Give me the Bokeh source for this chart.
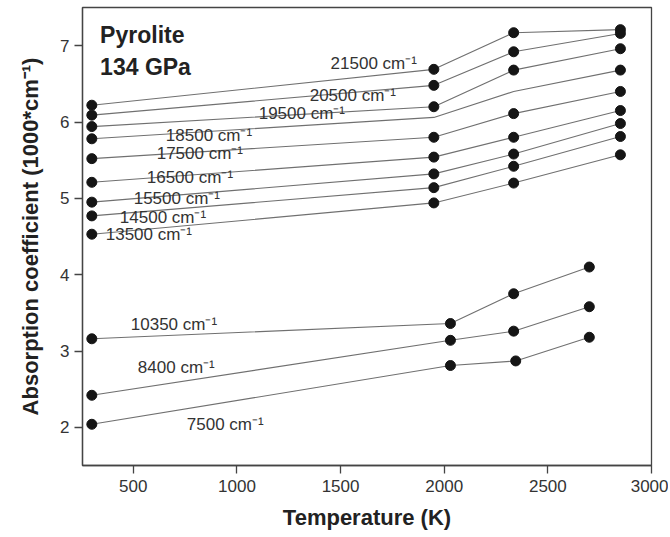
from bokeh.plotting import figure
from bokeh.models import ColumnDataSource, FixedTicker, Range1d
from bokeh.core.properties import value
from bokeh.embed import file_html
from bokeh.resources import INLINE

# ---- data ----
temps_high = [300, 1950, 2335, 2850]
series_high = {
    "21500": [6.22, 6.69, 7.17, 7.21],
    "20500": [6.09, 6.48, 6.92, 7.16],
    "19500": [5.94, 6.20, 6.68, 6.96],
    "18500": [5.78, 6.06, 6.40, 6.68],
    "17500": [5.52, 5.80, 6.11, 6.40],
    "16500": [5.21, 5.54, 5.80, 6.15],
    "15500": [4.95, 5.32, 5.58, 5.98],
    "14500": [4.77, 5.14, 5.42, 5.81],
    "13500": [4.53, 4.94, 5.20, 5.57],
}
marked_high = {k: [True, True, True, True] for k in series_high}
marked_high["18500"] = [True, False, False, True]

temps_low = {
    "10350": [300, 2030, 2335, 2700],
    "8400": [300, 2030, 2335, 2700],
    "7500": [300, 2030, 2345, 2700],
}
series_low = {
    "10350": [3.16, 3.36, 3.75, 4.10],
    "8400": [2.42, 3.14, 3.26, 3.58],
    "7500": [2.04, 2.81, 2.87, 3.18],
}

label_names = ["21500", "20500", "19500", "18500", "17500", "16500",
               "15500", "14500", "13500", "10350", "8400", "7500"]
label_x = [1452, 1351, 1105, 657, 613, 565, 502, 435, 367, 488, 522, 758]
label_y = [6.76, 6.35, 6.11, 5.82, 5.585, 5.27, 4.995, 4.745, 4.53, 3.35, 2.79, 2.04]

x_ticks = [500, 1000, 1500, 2000, 2500, 3000]
y_ticks = [2, 3, 4, 5, 6, 7]

FONT = "Liberation Sans"
LINE_C = "#707070"
DOT_C = "#151515"

p = figure(width=668, height=535, output_backend="svg", toolbar_location=None,
           x_range=Range1d(255, 3000), y_range=Range1d(1.5, 7.5),
           min_border_left=82, min_border_right=17, min_border_top=7,
           min_border_bottom=70)
p.xgrid.visible = False
p.ygrid.visible = False
p.outline_line_color = "#444444"
p.outline_line_width = 1.3
p.background_fill_color = "white"
p.border_fill_color = "white"

def draw(xs, ys, marks):
    p.line(xs, ys, line_color=LINE_C, line_width=1.1)
    mx = [x for x, m in zip(xs, marks) if m]
    my = [y for y, m in zip(ys, marks) if m]
    p.scatter(mx, my, size=10, fill_color=DOT_C, line_color=DOT_C)

for k, ys in series_high.items():
    draw(temps_high, ys, marked_high[k])
for k, ys in series_low.items():
    draw(temps_low[k], ys, [True] * len(ys))

src = ColumnDataSource(dict(x=label_x, y=label_y,
                            t=[n + " cm\u207b\u00b9" for n in label_names]))
p.text(x="x", y="y", text="t", source=src, text_font=value(FONT),
       text_font_size="17px", text_color="#333333", text_baseline="middle",
       text_align="left")

p.text(x=[340, 340], y=[7.14, 6.715], text=["Pyrolite", "134 GPa"],
       text_font=value(FONT), text_font_size="23px", text_font_style="bold",
       text_color="#222222", text_baseline="middle", text_align="left")

for ax in (p.xaxis[0], p.yaxis[0]):
    ax.axis_line_color = "#444444"
    ax.axis_line_width = 1.3
    ax.major_tick_line_color = "#444444"
    ax.major_tick_line_width = 1.3
    ax.major_tick_out = 8
    ax.major_tick_in = 0
    ax.minor_tick_line_color = None
    ax.major_label_text_font = FONT
    ax.major_label_text_font_size = "17px"
    ax.major_label_text_color = "#333333"
    ax.axis_label_text_font = FONT
    ax.axis_label_text_font_size = "22px"
    ax.axis_label_text_font_style = "bold"
    ax.axis_label_text_color = "#222222"

p.xaxis.ticker = FixedTicker(ticks=x_ticks)
p.yaxis.ticker = FixedTicker(ticks=y_ticks)
p.xaxis.axis_label = "Temperature (K)"
p.yaxis.axis_label = "Absorption coefficient (1000*cm\u207b\u00b9)"
p.xaxis.major_label_standoff = 6
p.yaxis.major_label_standoff = 5
p.xaxis.axis_label_standoff = 10
p.yaxis.axis_label_standoff = 14

open("out.html", "w").write(file_html(p, INLINE))
